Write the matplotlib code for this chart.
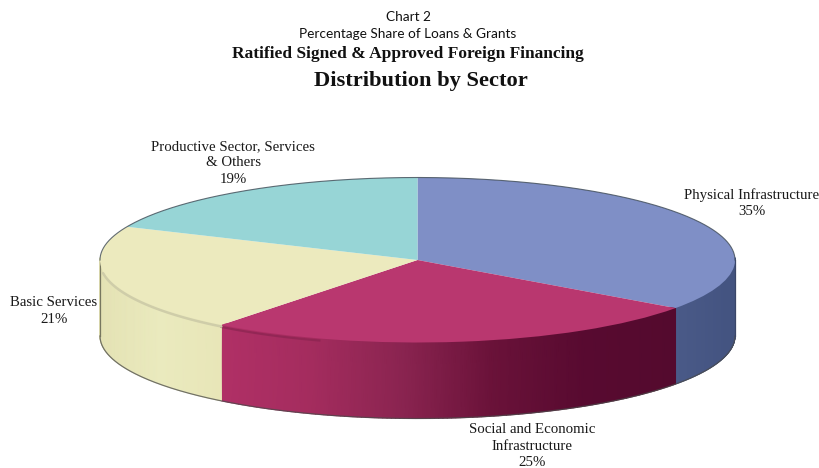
import numpy as np
import matplotlib
matplotlib.use("Agg")
import matplotlib.pyplot as plt
from matplotlib.colors import LinearSegmentedColormap

sectors = ["Physical Infrastructure", "Social and Economic\nInfrastructure",
           "Basic Services", "Productive Sector, Services\n& Others"]
shown_percent = ["35%", "25%", "21%", "19%"]
slice_shares = [34.9, 25.7, 21.0, 18.4]
top_colors = ["#7F8FC6", "#B9376F", "#ECEABE", "#97D5D6"]
side_stops = [["#4A5A88", "#435380"],
              ["#B03066", "#A42C5E", "#8A2450", "#6A1239", "#580A30", "#540A2E"],
              ["#E4E2B4", "#EAEABE", "#E8E6B8"],
              ["#97D5D6", "#97D5D6"]]

W, H = 819, 468
CX, CY, RX, RY, DEPTH = 417.5, 260, 317.5, 82.5, 76

fig = plt.figure(figsize=(W / 100, H / 100), dpi=100, facecolor="white")
ax = fig.add_axes([0, 0, 1, 1])

ax.pie(slice_shares, colors=top_colors, startangle=90, counterclock=False, radius=1,
       wedgeprops=dict(linewidth=0), normalize=True)
for p in ax.patches:
    p.set_zorder(5)
ax.set_aspect("auto")
ax.set_xlim((0 - CX) / RX, (W - CX) / RX)
ax.set_ylim((CY - H) / RY, CY / RY)
ax.axis("off")

d = DEPTH / RY
edges = 90 - np.cumsum([0] + slice_shares) * 3.6

# cylinder side: only the front half (-180..0 degrees) is visible
for i in range(len(slice_shares)):
    a1, a0 = edges[i], edges[i + 1]
    lo, hi = max(a0, -180), min(a1, 0)
    if lo >= hi:
        continue
    cmap = LinearSegmentedColormap.from_list("s", side_stops[i])
    t = np.radians(np.linspace(lo, hi, 120))
    xs, ys = np.cos(t), np.sin(t)
    X = np.vstack([xs, xs])
    Y = np.vstack([ys - d, ys + 0.03])
    C = np.vstack([xs, xs])
    C = (C - xs[0]) / (xs[-1] - xs[0])
    ax.pcolormesh(X, Y, C, cmap=cmap, vmin=0, vmax=1, shading="gouraud", zorder=2)

# soft shaded rim on the yellow side
t = np.radians(np.linspace(-172, edges[2], 80))
ax.plot(np.cos(t), np.sin(t) - 0.02, color="#CFCDA9", lw=1.8, zorder=6, solid_capstyle="round")
# darker rim on the left of the red side
t = np.radians(np.linspace(edges[2], -108, 40))
ax.plot(np.cos(t), np.sin(t) - 0.025, color="#8A2450", lw=1.6, alpha=0.7, zorder=4)

# outline lines
t = np.radians(np.linspace(-180, 0, 300))
ax.plot(np.cos(t), np.sin(t) - d, color="#4A4A4A", lw=0.9, alpha=0.75, zorder=4)
ax.plot([-1, -1], [0, -d], color="#77775F", lw=0.9, zorder=4)
ax.plot([1, 1], [0, -d], color="#3A4668", lw=0.9, zorder=4)
t = np.radians(np.linspace(0, 180, 300))
ax.plot(np.cos(t), np.sin(t), color="#3E4A55", lw=0.8, alpha=0.8, zorder=6)


def put(text, x, y, **kw):
    fig.text(x / W, 1 - y / H, text, ha="center", va="center", **kw)


serif = "Liberation Serif"
put("Chart 2", 408, 17, family="Lato", fontsize=9.8, color="#111111")
put("Percentage Share of Loans & Grants", 408, 34, family="Lato", fontsize=9.8, color="#111111")
put("Ratified Signed & Approved Foreign Financing", 408, 54, family=serif, fontsize=12.5,
    weight="bold", color="#111111")
put("Distribution by Sector", 421, 81, family=serif, fontsize=16.2, weight="bold", color="#111111")

label_xy = [(752, 203), (532, 446), (54, 311), (233, 163)]
for name, pct, (x, y) in zip(sectors, shown_percent, label_xy):
    put(name + "\n" + pct, x, y, family=serif, fontsize=10.7, color="#1A1A1A", linespacing=1.34)

fig.savefig("out.png", dpi=100)
